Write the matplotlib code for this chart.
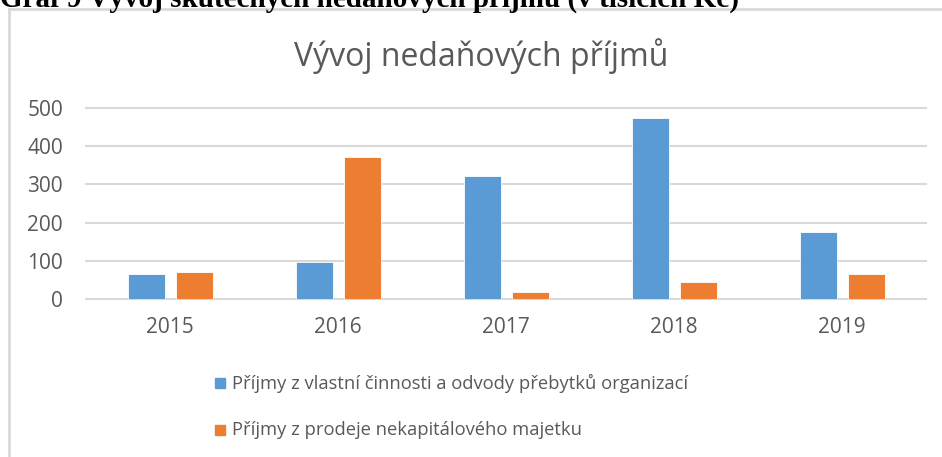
import matplotlib
matplotlib.use("Agg")
import matplotlib.pyplot as plt
import numpy as np
from matplotlib.patches import Rectangle
from matplotlib.lines import Line2D

years = ["2015", "2016", "2017", "2018", "2019"]
vlastni = [67, 97, 322, 472, 175]
prodej = [70, 372, 20, 44, 67]
series_names = ["Příjmy z vlastní činnosti a odvody přebytků organizací",
                "Příjmy z prodeje nekapitálového majetku"]
yticks = [0, 100, 200, 300, 400, 500]

BLUE = "#5B9BD5"
ORANGE = "#ED7D31"
GRID = "#D9D9D9"
TEXT = "#595959"
FONT = ["Open Sans", "DejaVu Sans"]

W, H = 942, 457
fig = plt.figure(figsize=(W / 100, H / 100), dpi=100)
fig.patch.set_facecolor("white")

# caption (clipped at top, as in the source)
fig.text(0.0, 1 - 6.5 / H, "Graf 9 Vývoj skutečných nedaňových příjmů (v tisících Kč)",
         fontsize=21, fontweight="bold", family=["Liberation Serif"], color="black",
         ha="left", va="baseline")

# chart border (left and top)
fig.add_artist(Line2D([9 / W, 9 / W], [0, 1 - 9 / H], color=GRID, lw=2, transform=fig.transFigure))
fig.add_artist(Line2D([9 / W, 1], [1 - 9 / H, 1 - 9 / H], color=GRID, lw=2, transform=fig.transFigure))

left, right = 86 / W, 926 / W
bottom, top = 1 - 299.3 / H, 1 - 107.7 / H
ax = fig.add_axes([left, bottom, right - left, top - bottom])
x = np.arange(len(years))
off = 24 / 168
bw = 37 / 168
ax.bar(x - off, vlastni, bw, color=BLUE, edgecolor="white", linewidth=0.6, zorder=3, label=series_names[0])
ax.bar(x + off, prodej, bw, color=ORANGE, edgecolor="white", linewidth=0.6, zorder=3, label=series_names[1])
ax.set_xlim(-0.5, len(years) - 0.5)
ax.set_ylim(0, 500)
for t in yticks:
    ax.axhline(t, color=GRID, lw=1.5, zorder=1, clip_on=False)
for s in ax.spines.values():
    s.set_visible(False)
ax.set_yticks(yticks)
ax.set_xticks(x)
ax.set_xticklabels(years)
ax.tick_params(axis="both", length=0, labelsize=15, labelcolor=TEXT)
ax.tick_params(axis="y", pad=16.5)
ax.tick_params(axis="x", pad=13)
for lab in ax.get_xticklabels() + ax.get_yticklabels():
    lab.set_family(FONT)

fig.text(481 / W, 1 - 56 / H, "Vývoj nedaňových příjmů", fontsize=23, color=TEXT,
         family=FONT, ha="center", va="center")

# legend
for i, (name, col) in enumerate(zip(series_names, [BLUE, ORANGE])):
    yc = 383 if i == 0 else 430
    fig.add_artist(Rectangle((215 / W, 1 - (yc + 5) / H), 10 / W, 10 / H, color=col,
                             transform=fig.transFigure))
    fig.text(232 / W, 1 - yc / H, name, fontsize=13.2, color=TEXT, family=FONT,
             ha="left", va="center")

fig.savefig("out.png", dpi=100)
